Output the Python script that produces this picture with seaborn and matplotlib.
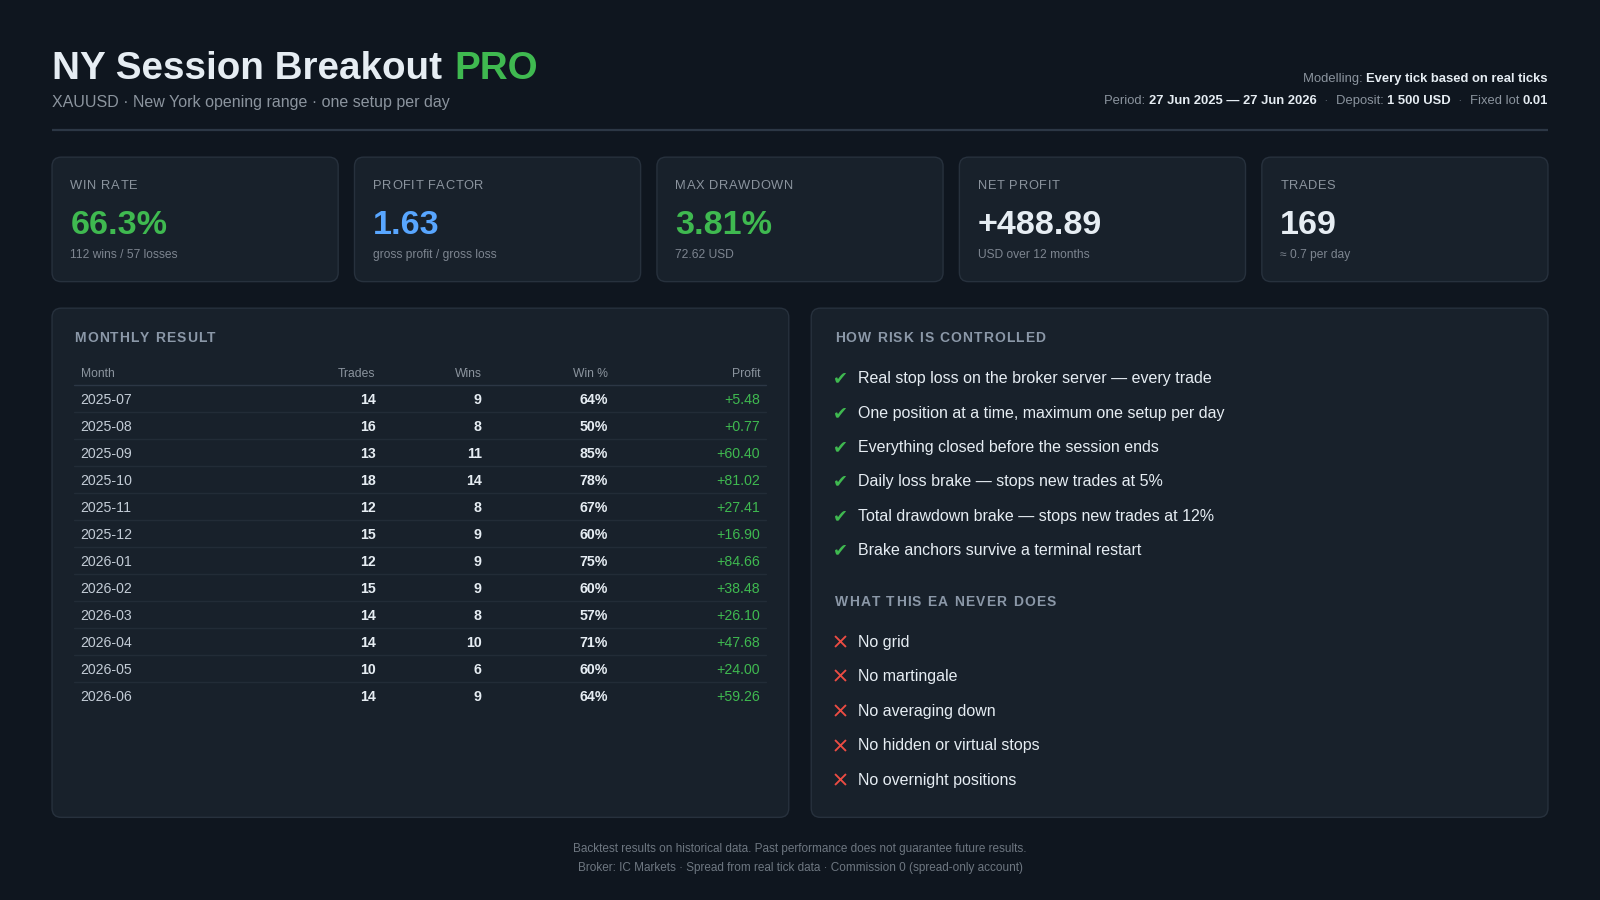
import matplotlib
matplotlib.use("Agg")
import matplotlib.pyplot as plt
from matplotlib.patches import FancyBboxPatch
from matplotlib.font_manager import FontProperties, findfont
from matplotlib.ft2font import FT2Font
import seaborn as sns
import pandas as pd

# ---------------- data ----------------
title_main = "NY Session Breakout"
title_accent = "PRO"
subtitle = "XAUUSD \u00b7 New York opening range \u00b7 one setup per day"

modelling_label = "Modelling:"
modelling_value = "Every tick based on real ticks"
period_value = "27 Jun 2025 \u2014 27 Jun 2026"
deposit_value = "1 500 USD"
lot_value = "0.01"

kpi_labels = ["WIN RATE", "PROFIT FACTOR", "MAX DRAWDOWN", "NET PROFIT", "TRADES"]
kpi_values = ["66.3%", "1.63", "3.81%", "+488.89", "169"]
kpi_subs = ["112 wins / 57 losses", "gross profit / gross loss", "72.62 USD",
            "USD over 12 months", "\u2248 0.7 per day"]
kpi_tones = ["green", "blue", "green", "white", "white"]

months = ["2025-07", "2025-08", "2025-09", "2025-10", "2025-11", "2025-12",
          "2026-01", "2026-02", "2026-03", "2026-04", "2026-05", "2026-06"]
trades = [14, 16, 13, 18, 12, 15, 12, 15, 14, 14, 10, 14]
wins = [9, 8, 11, 14, 8, 9, 9, 9, 8, 10, 6, 9]
win_pct = [64, 50, 85, 78, 67, 60, 75, 60, 57, 71, 60, 64]
profit = [5.48, 0.77, 60.40, 81.02, 27.41, 16.90, 84.66, 38.48, 26.10, 47.68, 24.00, 59.26]
table_columns = ["Month", "Trades", "Wins", "Win %", "Profit"]

risk_title = "HOW RISK IS CONTROLLED"
risk_items = ["Real stop loss on the broker server \u2014 every trade",
              "One position at a time, maximum one setup per day",
              "Everything closed before the session ends",
              "Daily loss brake \u2014 stops new trades at 5%",
              "Total drawdown brake \u2014 stops new trades at 12%",
              "Brake anchors survive a terminal restart"]
never_title = "WHAT THIS EA NEVER DOES"
never_items = ["No grid", "No martingale", "No averaging down",
               "No hidden or virtual stops", "No overnight positions"]
table_title = "MONTHLY RESULT"
footer_lines = ["Backtest results on historical data. Past performance does not guarantee future results.",
                "Broker: IC Markets \u00b7 Spread from real tick data \u00b7 Commission 0 (spread-only account)"]

# ---------------- style ----------------
BG = "#0f161f"
CARD = "#18212b"
BORDER = "#27313d"
WHITE = "#e6edf3"
GREY = "#8b949e"
DIM = "#7d8590"
HEAD = "#8b98a8"
MONTHC = "#c3ccd6"
GREEN = "#3fb950"
BLUE = "#58a6ff"
RED = "#ec4c43"
SEP = "#2c3745"
ROWLINE = "#222c37"
FOOT = "#6e7781"
TONES = {"green": GREEN, "blue": BLUE, "white": WHITE}

sns.set_theme(style="dark", rc={"figure.facecolor": BG, "axes.facecolor": BG})
FONT = ["Liberation Sans", "DejaVu Sans"]
plt.rcParams["font.family"] = FONT

W, H = 1568, 882
PX = 1600 / W  # output pixels per layout unit

fig = plt.figure(figsize=(16, 9), dpi=100, facecolor=BG)
ax = fig.add_axes([0, 0, 1, 1])
ax.set_xlim(0, W)
ax.set_ylim(H, 0)
ax.axis("off")


def pt(px):
    return px * PX * 0.72


_font_cache = {}


def advance(s, size_pt, weight="normal"):
    key = weight
    if key not in _font_cache:
        _font_cache[key] = FT2Font(findfont(FontProperties(family="Liberation Sans", weight=weight)))
    f = _font_cache[key]
    f.set_size(size_pt, 72)
    total = 0.0
    for ch in s:
        g = f.load_char(ord(ch))
        total += g.linearHoriAdvance / 65536.0
    return total / 72 * 100 / PX


def rich(x, y, pieces, size, ha="left"):
    # pieces: (text, weight, color)
    widths = [advance(s, size, wt) for s, wt, c in pieces]
    total = sum(widths)
    cur = x - total if ha == "right" else x
    for (s, wt, c), w in zip(pieces, widths):
        ax.text(cur, y, s, fontsize=size, fontweight=wt, color=c, va="baseline", ha="left")
        cur += w


def spaced(x, y, s, size, spacing, weight="bold", color=HEAD):
    cur = x
    for ch in s:
        if ch != " ":
            ax.text(cur, y, ch, fontsize=size, fontweight=weight, color=color,
                    va="baseline", ha="left")
        cur += advance(ch, size, weight) + spacing


def box(x0, y0, x1, y1, r=9):
    p = FancyBboxPatch((x0 + r, y0 + r), (x1 - x0) - 2 * r, (y1 - y0) - 2 * r,
                       boxstyle=f"round,pad={r}", fc=CARD, ec=BORDER, lw=1.0)
    ax.add_patch(p)


# ---------------- header ----------------
tsize = pt(37.9)
rich(51, 77.5, [(title_main, "bold", WHITE), (" ", "normal", WHITE),
                (title_accent, "bold", GREEN)], tsize)
ax.text(51, 104.5, subtitle, fontsize=pt(15.7), color=GREY, va="baseline", ha="left")

msize = pt(12.75)
rich(1517, 80, [(modelling_label + " ", "normal", GREY), (modelling_value, "bold", WHITE)],
     msize, ha="right")
rich(1517, 101.5, [("Period: ", "normal", GREY), (period_value, "bold", WHITE),
                   ("  \u00b7  ", "normal", "#5c6672"),
                   ("Deposit: ", "normal", GREY), (deposit_value, "bold", WHITE),
                   ("  \u00b7  ", "normal", "#5c6672"),
                   ("Fixed lot ", "normal", GREY), (lot_value, "bold", WHITE)],
     msize, ha="right")
ax.plot([51, 1517], [127, 127], color=SEP, lw=1.6, solid_capstyle="butt")

# ---------------- KPI cards ----------------
card_w = (1517 - 51 - 4 * 16) / 5
for i, (lab, val, sub, tone) in enumerate(zip(kpi_labels, kpi_values, kpi_subs, kpi_tones)):
    x0 = 51 + i * (card_w + 16)
    box(x0, 154, x0 + card_w, 276)
    spaced(x0 + 18, 185, lab, pt(12.6), 0.6, weight="normal", color=GREY)
    ax.text(x0 + 18, 229, val, fontsize=pt(33.5), fontweight="bold", color=TONES[tone],
            va="baseline", ha="left")
    ax.text(x0 + 18, 252.5, sub, fontsize=pt(11.8), color=DIM, va="baseline", ha="left")

# ---------------- monthly table ----------------
box(51, 302, 773, 801)
spaced(73, 335, table_title, pt(13.6), 1.0)

df = pd.DataFrame({"Month": months, "Trades": trades, "Wins": wins,
                   "Win %": win_pct, "Profit": profit})
col_x = {"Month": 79, "Trades": 368, "Wins": 472, "Win %": 596, "Profit": 745}
hsize = pt(11.9)
for c in table_columns:
    ax.text(col_x[c], 369, c, fontsize=hsize, color=GREY, va="baseline",
            ha="left" if c == "Month" else "right")
ax.plot([73, 751], [377.5, 377.5], color=SEP, lw=1.0)

row0, pitch = 391, 26.45
rsize = pt(13.8)
for i, row in df.iterrows():
    yc = row0 + i * pitch
    yb = yc + 5
    ax.text(col_x["Month"], yb, row["Month"], fontsize=rsize, color=MONTHC, va="baseline", ha="left")
    ax.text(col_x["Trades"], yb, f"{row['Trades']}", fontsize=rsize, fontweight="bold",
            color=WHITE, va="baseline", ha="right")
    ax.text(col_x["Wins"], yb, f"{row['Wins']}", fontsize=rsize, fontweight="bold",
            color=WHITE, va="baseline", ha="right")
    ax.text(col_x["Win %"], yb, f"{row['Win %']}%", fontsize=rsize, fontweight="bold",
            color=WHITE, va="baseline", ha="right")
    ax.text(col_x["Profit"], yb, f"+{row['Profit']:.2f}", fontsize=rsize,
            color=GREEN, va="baseline", ha="right")
    if i < len(df) - 1:
        ax.plot([73, 751], [yc + pitch / 2, yc + pitch / 2], color=ROWLINE, lw=1.0)

# ---------------- risk panel ----------------
box(795, 302, 1517, 801)
spaced(818, 335, risk_title, pt(13.6), 1.05)
isize = pt(15.7)
r0, rp = 370, 33.6
for i, item in enumerate(risk_items):
    yc = r0 + i * rp
    ax.text(816.5, yc + 6, "\u2714", fontsize=pt(17.5), color=GREEN,
            family=["DejaVu Sans"], va="baseline", ha="left")
    ax.text(841, yc + 5.7, item, fontsize=isize, color=WHITE, va="baseline", ha="left")

spaced(818, 594, never_title, pt(13.6), 1.15)
n0, npch = 628, 33.9
never_df = pd.DataFrame({"x": [823.5] * len(never_items),
                         "y": [n0 + i * npch for i in range(len(never_items))]})
sns.scatterplot(data=never_df, x="x", y="y", marker="x", s=62, color=RED,
                linewidth=1.35, ax=ax, legend=False, zorder=5)
for i, item in enumerate(never_items):
    ax.text(841, never_df["y"][i] + 5.7, item, fontsize=isize, color=WHITE,
            va="baseline", ha="left")
ax.set_xlim(0, W)
ax.set_ylim(H, 0)
ax.axis("off")

# ---------------- footer ----------------
for i, line in enumerate(footer_lines):
    ax.text(784, 835 + i * 19, line, fontsize=pt(11.5), color=FOOT, va="baseline", ha="center")

fig.savefig("out.png", dpi=100, facecolor=BG)
